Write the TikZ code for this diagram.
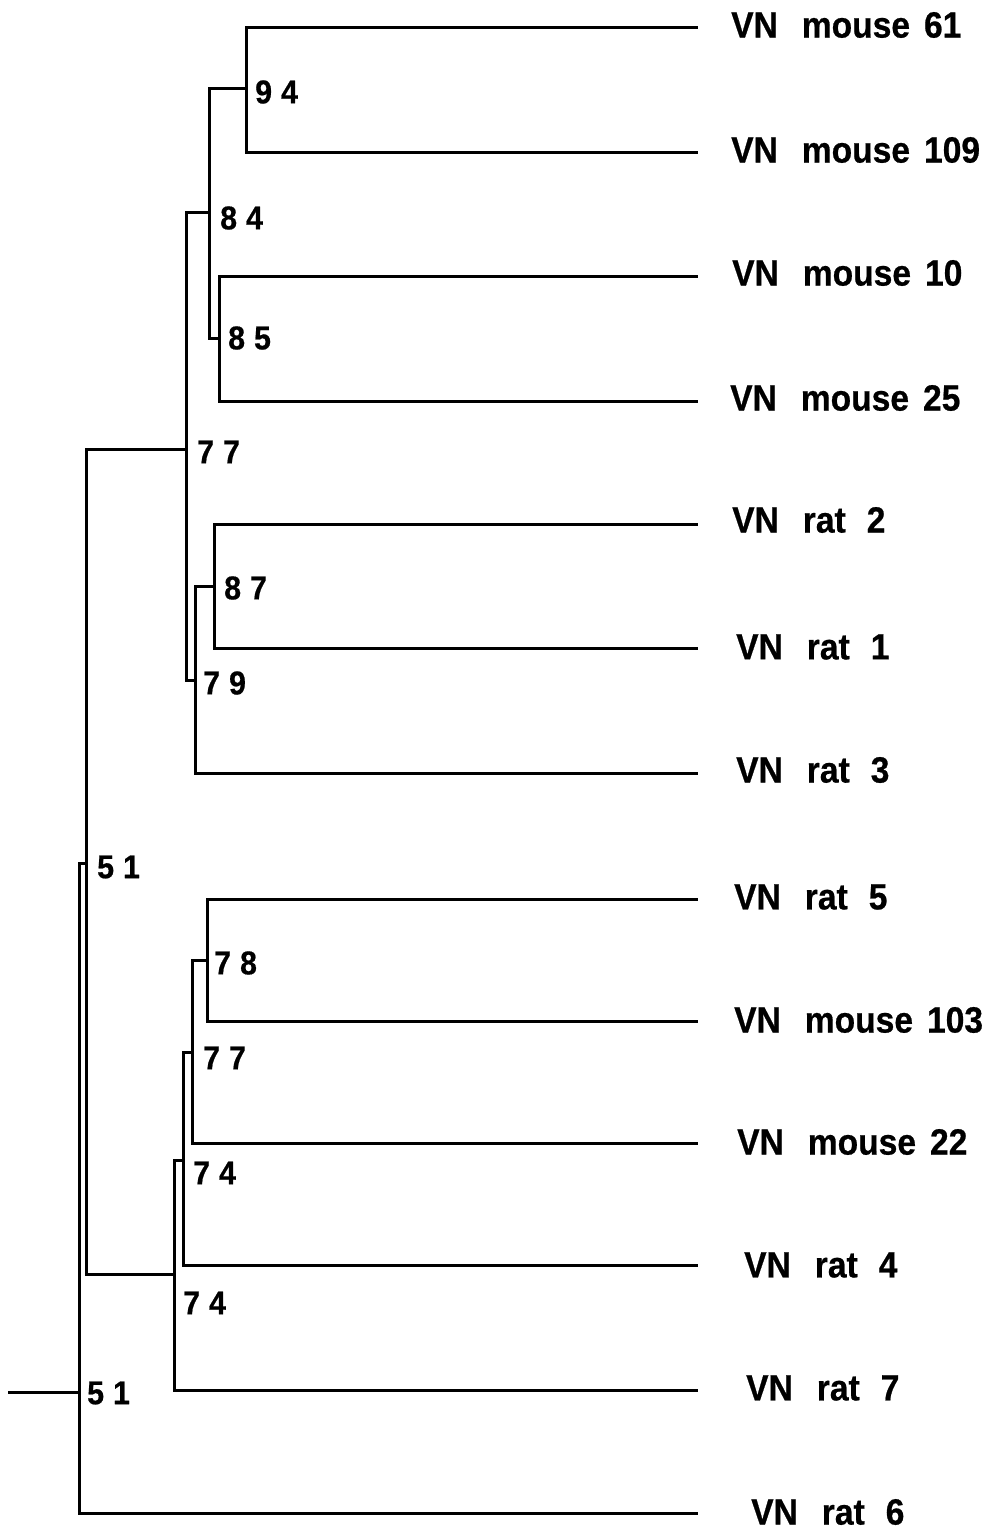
\documentclass[tikz,border=0pt]{standalone}
\usepackage{fontspec}
\setmainfont{Liberation Sans}[FakeStretch=0.92,FakeBold=0.6]
\newcommand{\Mo}[1]{VN\hspace{24pt}mouse\hspace{14pt}#1}
\newcommand{\Ra}[1]{VN\hspace{24pt}rat\hspace{21pt}#1}
\newcommand{\Bv}[2]{#1\hspace{9pt}#2}
\begin{document}
\begin{tikzpicture}[x=1pt,y=-1pt,
  br/.style={line width=3pt},
  leaf/.style={anchor=west, inner sep=0pt, font=\fontsize{36.5}{38}\selectfont\bfseries},
  bval/.style={anchor=west, inner sep=0pt, font=\fontsize{33}{35}\selectfont\bfseries}]
\useasboundingbox (0,0) rectangle (994,1532);
% leaf ends
\coordinate (l61)  at (698,27);
\coordinate (l109) at (698,152);
\coordinate (l10)  at (698,276);
\coordinate (l25)  at (698,401);
\coordinate (r2)   at (698,524);
\coordinate (r1)   at (698,648);
\coordinate (r3)   at (698,773);
\coordinate (r5)   at (698,899);
\coordinate (l103) at (698,1021);
\coordinate (l22)  at (698,1143);
\coordinate (r4)   at (698,1265);
\coordinate (r7)   at (698,1390);
\coordinate (r6)   at (698,1513);
% internal nodes
\coordinate (start) at (8,1392);
\coordinate (root) at (79,1392);
\coordinate (n51)  at (86,863);
\coordinate (n77a) at (186,449);
\coordinate (n84)  at (209,212);
\coordinate (n94)  at (246,88);
\coordinate (n85)  at (219,338);
\coordinate (n79)  at (195,680);
\coordinate (n87)  at (214,586);
\coordinate (n74b) at (174,1274);
\coordinate (n74a) at (183,1160);
\coordinate (n77b) at (192,1052);
\coordinate (n78)  at (207,960);
% branches
\draw[br] (start) -- (root);
\draw[br] (root) |- (n51);
\draw[br] (root) |- (r6);
\draw[br] (n51) |- (n77a);
\draw[br] (n51) |- (n74b);
\draw[br] (n77a) |- (n84);
\draw[br] (n77a) |- (n79);
\draw[br] (n84) |- (n94);
\draw[br] (n84) |- (n85);
\draw[br] (n94) |- (l61);
\draw[br] (n94) |- (l109);
\draw[br] (n85) |- (l10);
\draw[br] (n85) |- (l25);
\draw[br] (n79) |- (n87);
\draw[br] (n79) |- (r3);
\draw[br] (n87) |- (r2);
\draw[br] (n87) |- (r1);
\draw[br] (n74b) |- (n74a);
\draw[br] (n74b) |- (r7);
\draw[br] (n74a) |- (n77b);
\draw[br] (n74a) |- (r4);
\draw[br] (n77b) |- (n78);
\draw[br] (n77b) |- (l22);
\draw[br] (n78) |- (r5);
\draw[br] (n78) |- (l103);
% leaf labels
\node[leaf] (t61)  at (731,25)   {\Mo{61}};
\node[leaf] (t109) at (731,150)  {\Mo{109}};
\node[leaf] (t10)  at (732,273)  {\Mo{10}};
\node[leaf] (t25)  at (730,398)  {\Mo{25}};
\node[leaf] (tr2)  at (732,520)  {\Ra{2}};
\node[leaf] (tr1)  at (736,647)  {\Ra{1}};
\node[leaf] (tr3)  at (736,770)  {\Ra{3}};
\node[leaf] (tr5)  at (734,897)  {\Ra{5}};
\node[leaf] (t103) at (734,1020) {\Mo{103}};
\node[leaf] (t22)  at (737,1142) {\Mo{22}};
\node[leaf] (tr4)  at (744,1265) {\Ra{4}};
\node[leaf] (tr7)  at (746,1388) {\Ra{7}};
\node[leaf] (tr6)  at (751,1512) {\Ra{6}};
% bootstrap values
\node[bval] (b94)  at (255,92)   {\Bv{9}{4}};
\node[bval] (b84)  at (220,218)  {\Bv{8}{4}};
\node[bval] (b85)  at (228,338)  {\Bv{8}{5}};
\node[bval] (b77a) at (197,452)  {\Bv{7}{7}};
\node[bval] (b87)  at (224,588)  {\Bv{8}{7}};
\node[bval] (b79)  at (203,683)  {\Bv{7}{9}};
\node[bval] (b51a) at (97,867)   {\Bv{5}{1}};
\node[bval] (b78)  at (214,963)  {\Bv{7}{8}};
\node[bval] (b77b) at (203,1058) {\Bv{7}{7}};
\node[bval] (b74a) at (193,1173) {\Bv{7}{4}};
\node[bval] (b74b) at (183,1303) {\Bv{7}{4}};
\node[bval] (b51r) at (87,1393)  {\Bv{5}{1}};
\end{tikzpicture}
\end{document}
